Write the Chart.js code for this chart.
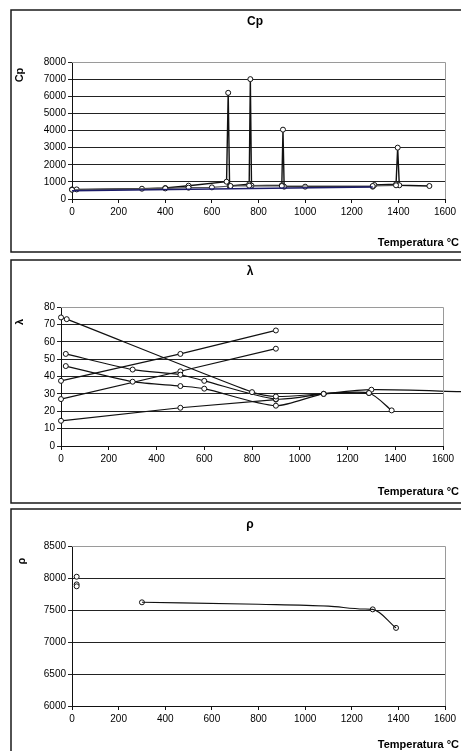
<!DOCTYPE html>
<html>
<head>
<meta charset="utf-8">
<script src="https://cdn.jsdelivr.net/npm/chart.js@4"></script>
<style>
    html, body { margin: 0; padding: 0; background: #fff; }
    body { width: 461px; height: 751px; position: relative; overflow: hidden; }
    canvas { position: absolute; left: 0; }
</style>
</head>
<body>
<canvas id="chartCp" width="461" height="255" style="top:0"></canvas>
<canvas id="chartLambda" width="461" height="250" style="top:255px"></canvas>
<canvas id="chartRho" width="461" height="246" style="top:505px"></canvas>
<script>
// ====== Data ======
// Cp (J/kg K) vs temperature
const cpNavyT = [0, 1290];
const cpNavyV = [480, 700];
const cpAT = [0, 20, 300, 400, 500, 663, 670, 676, 760, 765, 770, 900, 905, 910, 1000, 1290, 1297, 1390, 1397, 1404, 1533];
const cpAV = [560, 560, 600, 640, 777, 1010, 6200, 760, 860, 7000, 780, 800, 4050, 720, 720, 720, 820, 860, 3000, 800, 760];
const cpBT = [0, 400, 500, 600, 680, 760, 900, 1290, 1390];
const cpBV = [540, 620, 660, 680, 760, 780, 760, 760, 800];

// lambda (W/m K) vs temperature
const lamAT = [0, 24, 800, 900, 1100, 1290, 1385];
const lamAV = [74, 73, 31, 28.5, 30, 30.5, 20.5];
const lamBT = [20, 300, 500, 600, 900, 1100, 1300, 1700];
const lamBV = [53, 44, 41, 37.5, 27, 30, 32.4, 31.2];
const lamCT = [20, 300, 500, 600, 900, 1100, 1290];
const lamCV = [46, 37, 34.5, 33, 23.2, 30, 30.5];
const lamDT = [0, 500, 900];
const lamDV = [37.5, 53, 66.5];
const lamET = [0, 500, 900];
const lamEV = [27, 43, 56];
const lamFT = [0, 500, 900];
const lamFV = [14.5, 22, 26.7];

// rho (kg/m3) vs temperature
const rhoLineT = [300, 800, 1100, 1250, 1290, 1390];
const rhoLineV = [7620, 7590, 7560, 7515, 7510, 7220];
const rhoPtsT = [20, 20, 20, 300, 1290, 1390];
const rhoPtsV = [8020, 7900, 7870, 7620, 7510, 7220];

const tempMin = 0, tempMax = 1600, tempStep = 200;

// ====== Helpers ======
const FONT = '"Liberation Sans", Arial, sans-serif';
const pts = (xs, ys) => xs.map((x, i) => ({ x, y: ys[i] }));

function lineSet(xs, ys, extra = {}) {
    return Object.assign({
        data: pts(xs, ys),
        showLine: true,
        clip: 6,
        borderColor: '#111',
        borderWidth: 1.2,
        pointRadius: 2.5,
        pointBackgroundColor: '#fff',
        pointBorderColor: '#111',
        pointBorderWidth: 1,
        tension: 0
    }, extra);
}

// draws frame, titles and the grey top/right edge of the plot area
const decor = {
    id: 'decor',
    afterDraw(chart, args, o) {
        const ctx = chart.ctx;
        const a = chart.chartArea;
        ctx.save();
        ctx.strokeStyle = '#9a9a9a';
        ctx.lineWidth = 1;
        ctx.beginPath();
        ctx.moveTo(a.left, Math.round(a.top) + 0.5);
        ctx.lineTo(Math.round(a.right) + 0.5, Math.round(a.top) + 0.5);
        ctx.lineTo(Math.round(a.right) + 0.5, a.bottom);
        ctx.stroke();

        // outer frame
        ctx.strokeStyle = '#1a1a1a';
        ctx.lineWidth = 1.5;
        ctx.beginPath();
        const f = o.frame;
        ctx.moveTo(f.r, f.t);
        ctx.lineTo(f.l, f.t);
        ctx.lineTo(f.l, f.b);
        if (f.closeBottom) ctx.lineTo(f.r, f.b);
        ctx.stroke();

        ctx.fillStyle = '#000';
        ctx.textBaseline = 'middle';
        ctx.textAlign = 'center';
        ctx.font = 'bold 12px ' + FONT;
        ctx.fillText(o.title, o.titleX, o.titleY);

        ctx.textAlign = 'right';
        ctx.font = 'bold 11px ' + FONT;
        ctx.fillText('Temperatura °C', 459, o.xTitleY);

        ctx.translate(o.yTitleX, o.yTitleY);
        ctx.rotate(-Math.PI / 2);
        ctx.textAlign = 'center';
        ctx.font = 'bold 11px ' + FONT;
        ctx.fillText(o.title, 0, 0);
        ctx.restore();
    }
};

function makeOptions(yMin, yMax, yStep, padding, decorOpts) {
    return {
        responsive: false,
        animation: false,
        layout: { padding },
        plugins: {
            legend: { display: false },
            tooltip: { enabled: false },
            decor: decorOpts
        },
        scales: {
            x: {
                type: 'linear',
                min: tempMin,
                max: tempMax,
                afterFit: (s) => { s.height = 20; },
                ticks: {
                    stepSize: tempStep, color: '#000', font: { family: FONT, size: 10 }, padding: 3, maxRotation: 0,
                    callback: (v) => String(v)
                },
                grid: { drawOnChartArea: false, drawTicks: true, tickLength: 4, color: '#111' },
                border: { display: true, color: '#111', width: 1 }
            },
            y: {
                min: yMin,
                max: yMax,
                afterFit: (s) => { s.width = 40; },
                ticks: {
                    stepSize: yStep, color: '#000', font: { family: FONT, size: 10 }, padding: 2,
                    callback: (v) => String(v)
                },
                grid: { drawOnChartArea: true, drawTicks: true, tickLength: 4, color: '#222', lineWidth: 1 },
                border: { display: true, color: '#111', width: 1 }
            }
        }
    };
}

// ====== Charts ======
new Chart(document.getElementById('chartCp'), {
    type: 'scatter',
    data: {
        datasets: [
            lineSet(cpNavyT, cpNavyV, { borderColor: '#1c1c6a', borderWidth: 1.6, pointRadius: 0 }),
            lineSet(cpBT, cpBV, { borderColor: '#555' }),
            lineSet(cpAT, cpAV, { borderWidth: 1.4 })
        ]
    },
    options: makeOptions(0, 8000, 1000, { left: 32, right: 16, top: 62, bottom: 36 }, {
        title: 'Cp', titleX: 255, titleY: 22, xTitleY: 243, yTitleX: 20, yTitleY: 75,
        frame: { l: 11, t: 10, r: 470, b: 252, closeBottom: true }
    }),
    plugins: [decor]
});

new Chart(document.getElementById('chartLambda'), {
    type: 'scatter',
    data: {
        datasets: [
            lineSet(lamAT, lamAV, { tension: 0.25 }),
            lineSet(lamBT, lamBV, {
                tension: 0.25,
                clip: false,
                pointRadius: (c) => (c.raw && c.raw.x > tempMax ? 0 : 2.5)
            }),
            lineSet(lamCT, lamCV, { tension: 0.25 }),
            lineSet(lamDT, lamDV),
            lineSet(lamET, lamEV),
            lineSet(lamFT, lamFV)
        ]
    },
    options: makeOptions(0, 80, 10, { left: 21, right: 18, top: 52, bottom: 39 }, {
        title: 'λ', titleX: 250, titleY: 17, xTitleY: 237, yTitleX: 20, yTitleY: 67,
        frame: { l: 11, t: 5, r: 470, b: 248, closeBottom: true }
    }),
    plugins: [decor]
});

new Chart(document.getElementById('chartRho'), {
    type: 'scatter',
    data: {
        datasets: [
            lineSet(rhoLineT, rhoLineV, { pointRadius: 0, cubicInterpolationMode: 'monotone', borderWidth: 1.1 }),
            lineSet(rhoPtsT, rhoPtsV, { showLine: false })
        ]
    },
    options: makeOptions(6000, 8500, 500, { left: 32, right: 16, top: 41, bottom: 25 }, {
        title: 'ρ', titleX: 250, titleY: 20, xTitleY: 240, yTitleX: 22, yTitleY: 56,
        frame: { l: 11, t: 4, r: 470, b: 260, closeBottom: false }
    }),
    plugins: [decor]
});
</script>
</body>
</html>
